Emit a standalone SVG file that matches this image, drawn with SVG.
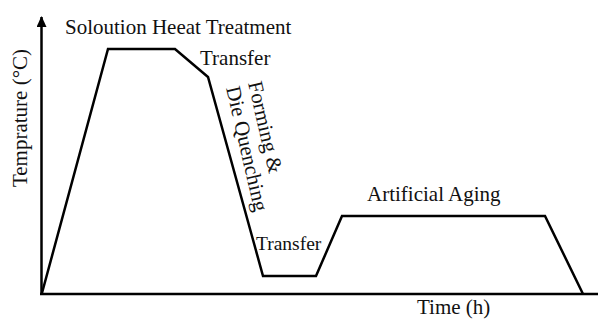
<svg xmlns="http://www.w3.org/2000/svg" width="598" height="320" viewBox="0 0 598 320">
<defs>
<style>
text{font-family:"Liberation Serif","Times New Roman",serif;font-size:21px;fill:#111}
.ln{fill:none;stroke:#000;stroke-width:2.5;stroke-linejoin:miter}
</style>
<marker id="ah" markerWidth="10" markerHeight="12" refX="5" refY="1" orient="0" markerUnits="userSpaceOnUse">
<path d="M0,11 L5,0 L10,11 Z" fill="#000"/>
</marker>
</defs>
<rect width="598" height="320" fill="#fff"/>
<g id="axes">
<line class="ln" x1="41.5" y1="294" x2="41.5" y2="17" marker-end="url(#ah)"/>
<line class="ln" x1="40" y1="294" x2="598" y2="294"/>
</g>
<g id="connectors">
<polyline class="ln" points="42,293 108,49 175,49 208,77 263,276 316,276 342,216 545,216 583,294"/>
</g>
<g id="labels">
<text x="65" y="34">Soloution Heeat Treatment</text>
<text x="200" y="65">Transfer</text>
<text transform="translate(248,83) rotate(77)">Forming &amp;</text>
<text transform="translate(226,88) rotate(77)">Die Quenching</text>
<text x="256" y="250" style="font-size:19.5px">Transfer</text>
<text x="367" y="201">Artificial Aging</text>
<text x="417" y="314">Time (h)</text>
<text transform="translate(27,118) rotate(-90)" text-anchor="middle">Temprature (°C)</text>
</g>
</svg>
